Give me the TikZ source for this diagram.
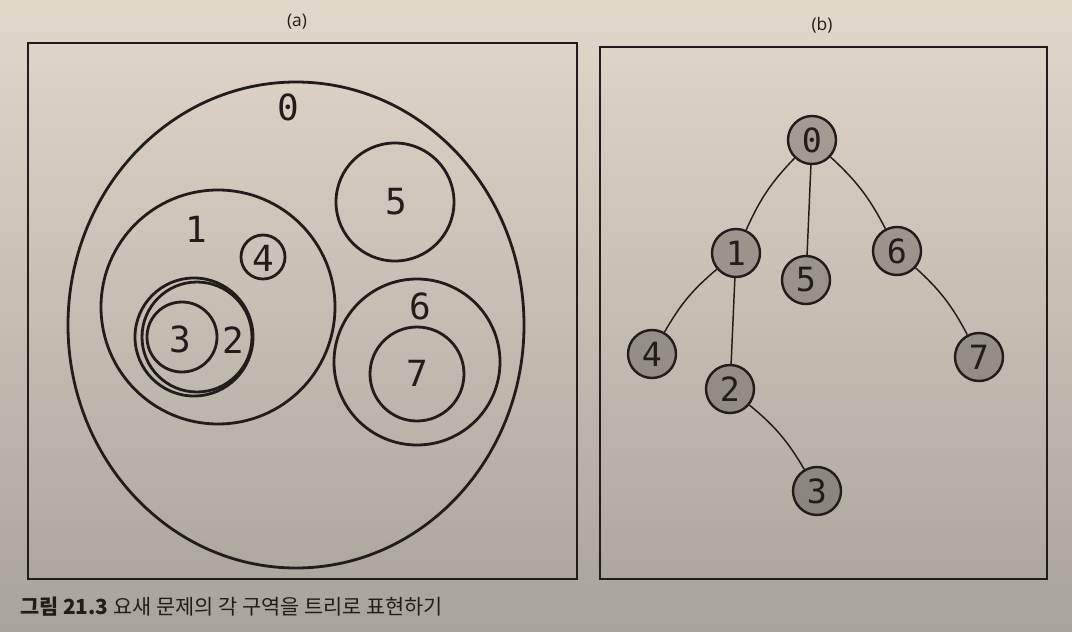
\documentclass[tikz,border=0pt]{standalone}
\usepackage{fontspec}
\newfontfamily\mono{DejaVu Sans Mono}
\newfontfamily\kr{Noto Sans CJK KR}
\newfontfamily\labfont{Open Sans}
\definecolor{paperTop}{RGB}{226,216,202}
\definecolor{paperBot}{RGB}{168,163,155}
\definecolor{ink}{RGB}{32,29,27}
\tikzset{
  region/.style={draw=ink, line width=2.1pt},
  panel/.style={draw=ink, line width=1.8pt},
  lbl/.style={font=\mono\fontsize{27}{29}\selectfont, text=ink, inner sep=0pt},
  tnode/.style={circle, draw=ink, line width=1.8pt, fill=ink, fill opacity=0.28, text opacity=1,
    minimum size=36pt, inner sep=0pt, font=\mono\fontsize{25}{27}\selectfont, text=ink},
  tedge/.style={draw=ink, line width=1.1pt},
  sublbl/.style={font=\labfont\fontsize{13}{15}\selectfont, text=ink}
}
\begin{document}
\begin{tikzpicture}[x=0.75pt,y=-0.75pt]
\useasboundingbox (0,0) rectangle (1072,632);
\shade[top color=paperTop, bottom color=paperBot] (0,0) rectangle (1072,632);
% panel labels
\node[sublbl] (la) at (297,22) {(a)};
\node[sublbl] (lb) at (822,25) {(b)};
% panels
\draw[panel] (28,43) rectangle (577,579);
\draw[panel] (600,47) rectangle (1047,579);
% (a) regions
\draw[region] (296,325) ellipse [x radius=228, y radius=243];
\draw[region] (218,307) circle [radius=117];
\draw[region] (263,257) circle [radius=22];
\draw[region] (194,337) circle [radius=59];
\draw[region] (197,337) circle [radius=55];
\draw[region] (182,337) circle [radius=35];
\draw[region] (395,202) circle [radius=59];
\draw[region] (417,362) circle [radius=83];
\draw[region] (417,374) circle [radius=47];
\node[lbl] (a0) at (288,107) {0};
\node[lbl] (a1) at (196,229) {1};
\node[lbl] (a4) at (263,258) {4};
\node[lbl] (a3) at (180,339) {3};
\node[lbl] (a2) at (233,340) {2};
\node[lbl] (a5) at (396,202) {5};
\node[lbl] (a6) at (420,306) {6};
\node[lbl] (a7) at (417,373) {7};
% (b) tree
\node[tnode] (t0) at (812,140) {0};
\node[tnode] (t1) at (736,253) {1};
\node[tnode] (t5) at (806,280) {5};
\node[tnode] (t6) at (897,251) {6};
\node[tnode] (t4) at (652,354) {4};
\node[tnode] (t7) at (979,357) {7};
\node[tnode] (t2) at (730,389) {2};
\node[tnode] (t3) at (817,491) {3};
\draw[tedge] (t0) to[bend right=10] (t1);
\draw[tedge] (t0) -- (t5);
\draw[tedge] (t0) to[bend left=10] (t6);
\draw[tedge] (t1) to[bend right=10] (t4);
\draw[tedge] (t1) -- (t2);
\draw[tedge] (t6) to[bend left=10] (t7);
\draw[tedge] (t2) to[bend left=10] (t3);
% caption
\node[anchor=west, inner sep=0pt, text=ink, font=\kr\fontsize{15.6}{18}\selectfont] (cap) at (20,607) {{\bfseries 그림 21.3} 요새 문제의 각 구역을 트리로 표현하기};
\end{tikzpicture}
\end{document}
